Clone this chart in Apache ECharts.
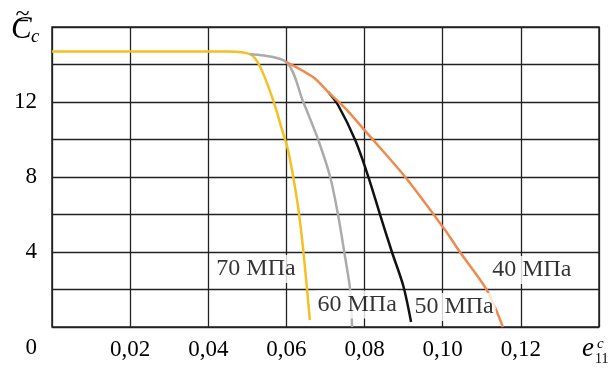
<!DOCTYPE html>
<html>
<head>
<meta charset="utf-8">
<script src="https://cdn.jsdelivr.net/npm/echarts@6/dist/echarts.min.js"></script>
<style>
html,body{margin:0;padding:0;background:#fff;}
#chart{width:609px;height:369px;}
</style>
</head>
<body>
<div id="chart"></div>
<script>
// x: strain e11^c, y: reduced stiffness
const strain70 = [0, 0.045, 0.0507, 0.0533, 0.0566, 0.0589, 0.0604, 0.0617, 0.0632, 0.0643, 0.0653, 0.066];
const stiff70  = [14.7, 14.7, 14.55, 13.87, 12.1, 10.5, 9.44, 8.05, 6.08, 4.1, 1.97, 0.37];

const strain60 = [0.0507, 0.06, 0.0643, 0.0681, 0.0712, 0.0732, 0.0748, 0.0763, 0.0768];
const stiff60  = [14.55, 14.13, 12.0, 10.0, 8.0, 6.0, 4.0, 2.0, 0];

const strain50 = [0.0707, 0.0732, 0.0776, 0.0809, 0.084, 0.087, 0.0899, 0.0919];
const stiff50  = [12.53, 11.84, 9.97, 8.05, 5.97, 4.0, 2.2, 0.27];

const strain40 = [0.06, 0.0668, 0.0707, 0.0755, 0.0806, 0.0904, 0.1006, 0.1044, 0.1113, 0.1154];
const stiff40  = [14.13, 13.33, 12.53, 11.57, 10.35, 8.0, 5.17, 4.0, 1.97, 0];

const labelTexts = ['70 МПа', '60 МПа', '50 МПа', '40 МПа'];
const labelX = [0.0522, 0.0781, 0.1029, 0.1228];
const labelY = [3.09, 1.2, 1.07, 3.04];

const xTicks = [0, 0.02, 0.04, 0.06, 0.08, 0.10, 0.12, 0.14];
const xTickLabels = ['', '0,02', '0,04', '0,06', '0,08', '0,10', '0,12', ''];
const yTickLabels = [4, 8, 12];

function zip(a, b) { return a.map((v, i) => [v, b[i]]); }

const FONT = 'Liberation Serif';
const chart = echarts.init(document.getElementById('chart'), null, {renderer: 'canvas'});

function lineSeries(name, xs, ys, color, z) {
  return {
    name: name, type: 'line', data: zip(xs, ys), showSymbol: false, smooth: 0.3,
    lineStyle: {color: color, width: 2.5}, itemStyle: {color: color}, z: z, animation: false
  };
}

chart.setOption({
  animation: false,
  backgroundColor: '#fff',
  grid: {left: 52, right: 10, top: 27, bottom: 42, show: true, borderColor: '#222', borderWidth: 1.5},
  xAxis: {
    type: 'value', min: xTicks[0], max: xTicks[xTicks.length - 1], interval: 0.02,
    axisLine: {show: false}, axisTick: {show: false},
    splitLine: {show: true, lineStyle: {color: '#222', width: 1.3}},
    axisLabel: {
      margin: 11, fontFamily: FONT, fontSize: 23, color: '#000',
      formatter: v => {
        const i = xTicks.findIndex(t => Math.abs(t - v) < 1e-9);
        return i >= 0 ? xTickLabels[i] : '';
      }
    }
  },
  yAxis: {
    type: 'value', min: 0, max: 16, interval: 2,
    axisLine: {show: false}, axisTick: {show: false},
    splitLine: {show: true, lineStyle: {color: '#222', width: 1.3}},
    axisLabel: {
      margin: 15, fontFamily: FONT, fontSize: 23, color: '#000',
      formatter: v => v === 0 ? '{z|0}' : (yTickLabels.indexOf(v) >= 0 ? String(v) : ''),
      rich: {z: {fontFamily: FONT, fontSize: 23, color: '#000', padding: [42, 0, 0, 0]}}
    }
  },
  series: [
    lineSeries('70 МПа', strain70, stiff70, '#F4C024', 3),
    lineSeries('60 МПа', strain60, stiff60, '#ABABAB', 4),
    lineSeries('50 МПа', strain50, stiff50, '#111111', 5),
    lineSeries('40 МПа', strain40, stiff40, '#EE8A4E', 6),
    {
      type: 'scatter', data: labelX.map((x, i) => [x, labelY[i], labelTexts[i]]),
      symbolSize: 1, itemStyle: {color: 'transparent'}, z: 20, silent: true,
      label: {
        show: true, position: 'inside', formatter: p => p.data[2],
        fontFamily: FONT, fontSize: 24, color: '#000', backgroundColor: '#fff', padding: [3, 2, 1, 2]
      }
    }
  ],
  graphic: [
    {type: 'text', left: 11, top: 14, style: {text: 'C', font: 'italic 31px "Liberation Serif"', fill: '#000'}},
    {type: 'text', left: 31, top: 27, style: {text: 'c', font: 'italic 19px "Liberation Serif"', fill: '#000'}},
    {type: 'line', shape: {x1: 17, y1: 20.5, x2: 28, y2: 20.5}, style: {stroke: '#000', lineWidth: 1.4}},
    {type: 'text', x: 22.5, y: 14, style: {text: '~', font: '26px "Liberation Serif"', fill: '#000', align: 'center', verticalAlign: 'middle'}},
    {type: 'text', left: 582, top: 335, style: {text: 'e', font: 'italic 27px "Liberation Serif"', fill: '#000'}},
    {type: 'text', left: 597, top: 337, style: {text: 'c', font: 'italic 15px "Liberation Serif"', fill: '#000'}},
    {type: 'text', left: 595, top: 352, style: {text: '11', font: '14px "Liberation Serif"', fill: '#000'}}
  ]
});
</script>
</body>
</html>
